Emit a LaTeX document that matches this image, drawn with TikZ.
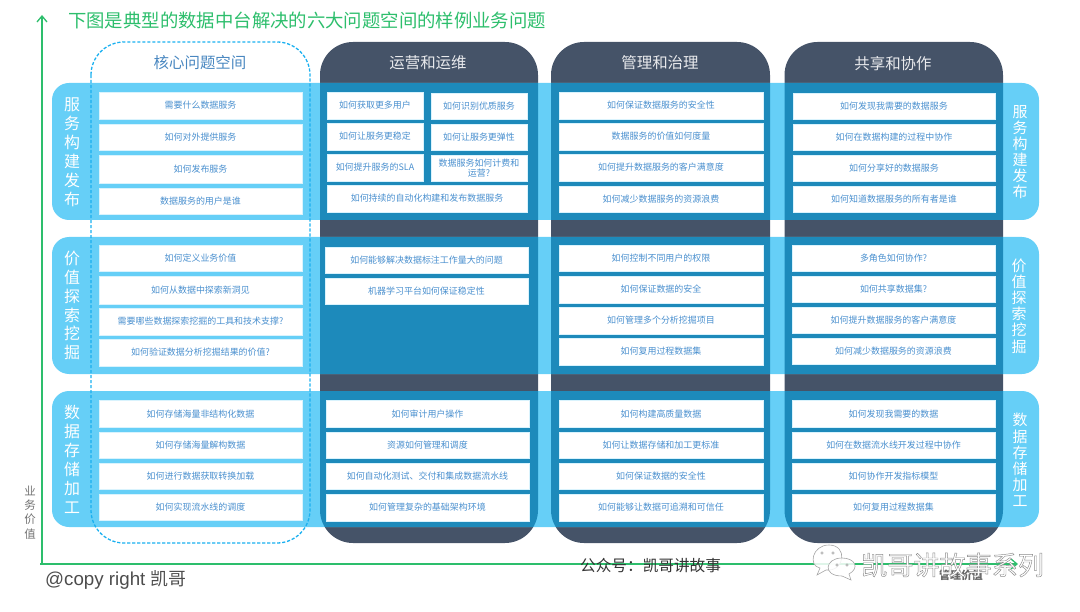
\documentclass[tikz,border=0pt]{standalone}
\usepackage{fontspec}
\setmainfont{Noto Sans CJK SC}
\newfontfamily\latinfam{Liberation Sans}
\usetikzlibrary{arrows.meta}
\definecolor{bandc}{HTML}{66CFF7}
\definecolor{darkc}{HTML}{455368}
\definecolor{overc}{HTML}{1D8ABB}
\definecolor{txtc}{HTML}{4A90CF}
\definecolor{greenc}{HTML}{2DBE6C}
\definecolor{dashc}{HTML}{1AB0F0}
\tikzset{
  colbox/.style={fill=darkc,rounded corners=33bp},
  bandbox/.style={fill=bandc,rounded corners=17bp},
  cell/.style={draw=white!75!bandc,line width=.7bp,fill=white},
  celltxt/.style={text=txtc,font=\fontsize{9}{10.5}\selectfont,align=center,inner sep=0pt},
  coltitle/.style={font=\fontsize{15.5}{18}\selectfont,inner sep=0pt},
  leftlab/.style={text=white,align=center,inner sep=0pt,font=\fontsize{16}{19}\selectfont},
  rightlab/.style={text=white,align=center,inner sep=0pt,font=\fontsize{15}{16.2}\selectfont},
  axisline/.style={draw=greenc,line width=1.3bp},
}
\newcommand{\bx}[6]{\draw[cell] (#2,#3) rectangle node[celltxt,name=#1]{#6} (#4,#5);}
\newcommand{\fourrows}[7]{%
  \bx{#1a}{#2}{\ya}{#3}{\yb}{#4}
  \bx{#1b}{#2}{\yc}{#3}{\yd}{#5}
  \bx{#1c}{#2}{\ye}{#3}{\yf}{#6}
  \bx{#1d}{#2}{\yg}{#3}{\yh}{#7}}
\newcommand{\setrows}[8]{\def\ya{#1}\def\yb{#2}\def\yc{#3}\def\yd{#4}\def\ye{#5}\def\yf{#6}\def\yg{#7}\def\yh{#8}}
\begin{document}
\begin{tikzpicture}[x=1bp,y=-1bp]
\useasboundingbox (0,0) rectangle (1080,612);
% dark columns
\fill[colbox] (320,42) rectangle (538,543);
\fill[colbox] (551,42) rectangle (770,543);
\fill[colbox] (784.5,42) rectangle (1003,543);
% bands
\fill[bandbox] (52,83) rectangle (1039,220);
\fill[bandbox] (52,237) rectangle (1039,374);
\fill[bandbox] (52,391) rectangle (1039,527);
% overlap
\begin{scope}
\clip[rounded corners=33bp] (320,42) rectangle (538,543);
\fill[overc] (300,83) rectangle (560,220);
\fill[overc] (300,237) rectangle (560,374);
\fill[overc] (300,391) rectangle (560,527);
\end{scope}
\begin{scope}
\clip[rounded corners=33bp] (551,42) rectangle (770,543);
\fill[overc] (540,83) rectangle (790,220);
\fill[overc] (540,237) rectangle (790,374);
\fill[overc] (540,391) rectangle (790,527);
\end{scope}
\begin{scope}
\clip[rounded corners=33bp] (784.5,42) rectangle (1003,543);
\fill[overc] (770,83) rectangle (1020,220);
\fill[overc] (770,237) rectangle (1020,374);
\fill[overc] (770,391) rectangle (1020,527);
\end{scope}
% dashed core column
\draw[dashc,line width=1.3bp,dash pattern=on 3.2bp off 1.8bp,rounded corners=33bp] (91,42) rectangle (310,543);
% column titles
\node[coltitle,text=txtc!85!darkc] (t1) at (200,63) {核心问题空间};
\node[coltitle,text=white!88!darkc] (t2) at (428,63) {运营和运维};
\node[coltitle,text=white!88!darkc] (t3) at (660,63) {管理和治理};
\node[coltitle,text=white!88!darkc] (t4) at (893,64) {共享和协作};
% side labels
\node[leftlab] (l1) at (72,152.5) {服\\务\\构\\建\\发\\布};
\node[leftlab] (l2) at (72,305.5) {价\\值\\探\\索\\挖\\掘};
\node[leftlab] (l3) at (72,459.5) {数\\据\\存\\储\\加\\工};
\node[rightlab] (r1) at (1020,152) {服\\务\\构\\建\\发\\布};
\node[rightlab] (r2) at (1019,306) {价\\值\\探\\索\\挖\\掘};
\node[rightlab] (r3) at (1020,460) {数\\据\\存\\储\\加\\工};
% core column cells
\setrows{92}{119}{124}{150}{155}{183}{188}{214}
\fourrows{a}{99}{302}{需要什么数据服务}{如何对外提供服务}{如何发布服务}{数据服务的用户是谁}
\setrows{245}{271.5}{276}{304}{308}{335}{339}{366}
\fourrows{b}{99}{302}{如何定义业务价值}{如何从数据中探索新洞见}{需要哪些数据探索挖掘的工具和技术支撑?}{如何验证数据分析挖掘结果的价值?}
\setrows{400.5}{427}{432}{458}{463}{489}{494}{520}
\fourrows{c}{99}{302}{如何存储海量非结构化数据}{如何存储海量解构数据}{如何进行数据获取转换加载}{如何实现流水线的调度}
% operations column
\bx{d1}{327}{92}{423}{119}{如何获取更多用户}
\bx{d2}{431}{93}{527}{119}{如何识别优质服务}
\bx{d3}{327}{123}{423}{150}{如何让服务更稳定}
\bx{d4}{431}{124}{527}{150}{如何让服务更弹性}
\bx{d5}{327}{154}{423}{181}{如何提升服务的SLA}
\bx{d6}{431}{155}{527}{181}{数据服务如何计费和\\运营?}
\bx{d7}{327}{185}{527}{212}{如何持续的自动化构建和发布数据服务}
\bx{e1}{325}{247}{528}{273}{如何能够解决数据标注工作量大的问题}
\bx{e2}{325}{278}{528}{304}{机器学习平台如何保证稳定性}
\setrows{400.5}{427}{432}{458}{463}{489}{494}{521}
\fourrows{f}{326}{529}{如何审计用户操作}{资源如何管理和调度}{如何自动化测试、交付和集成数据流水线}{如何管理复杂的基础架构环境}
% governance column
\setrows{92}{119}{123}{150}{154}{181}{186}{212}
\fourrows{g}{559}{763}{如何保证数据服务的安全性}{数据服务的价值如何度量}{如何提升数据服务的客户满意度}{如何减少数据服务的资源浪费}
\setrows{245}{271.5}{276}{303}{307}{334}{338}{365}
\fourrows{h}{559}{763}{如何控制不同用户的权限}{如何保证数据的安全}{如何管理多个分析挖掘项目}{如何复用过程数据集}
\setrows{400.5}{427}{432}{458}{463}{489}{494}{521}
\fourrows{i}{559}{763}{如何构建高质量数据}{如何让数据存储和加工更标准}{如何保证数据的安全性}{如何能够让数据可追溯和可信任}
% sharing column
\setrows{93}{119}{124}{150}{155}{181}{186}{212}
\fourrows{j}{793}{995}{如何发现我需要的数据服务}{如何在数据构建的过程中协作}{如何分享好的数据服务}{如何知道数据服务的所有者是谁}
\setrows{245}{271.5}{276}{302}{307}{333}{338}{364}
\fourrows{k}{792}{995}{多角色如何协作?}{如何共享数据集?}{如何提升数据服务的客户满意度}{如何减少数据服务的资源浪费}
\setrows{400.5}{427}{432}{458}{463}{489}{494}{521}
\fourrows{m}{792}{995}{如何发现我需要的数据}{如何在数据流水线开发过程中协作}{如何协作开发指标模型}{如何复用过程数据集}
% axes
\coordinate (origin) at (40,564);
\coordinate (ytip) at (42,15);
\coordinate (xtip) at (1018,564);
\draw[axisline,-{Straight Barb[length=6bp,width=10bp]}] (42,564) -- (ytip);
\draw[axisline,-{Straight Barb[length=6bp,width=10bp]}] (origin) -- (xtip);
% texts
\node[text=greenc,anchor=west,inner sep=0pt,font=\fontsize{18.45}{20}\selectfont] (title) at (68,20) {下图是典型的数据中台解决的六大问题空间的样例业务问题};
\node[text=black!55,align=center,inner sep=0pt,font=\fontsize{11.5}{14.3}\selectfont] (ylab) at (30,512.5) {业\\务\\价\\值};
\node[text=black!70,anchor=west,inner sep=0pt,font=\fontsize{18}{20}\selectfont] (copy) at (45,580) {{\latinfam\fontsize{18.8}{20}\selectfont @copy right }凯哥};
\node[text=black!80,anchor=west,inner sep=0pt,font=\fontsize{15.7}{18}\selectfont] (pub) at (580,566) {公众号：凯哥讲故事};
\node[text=black!60,inner sep=0pt,font=\fontsize{11}{12}\bfseries\selectfont] (xlab) at (961,575) {管理价值};
% watermark
\begin{scope}[draw=black!35,fill=white,line width=.6bp]
\filldraw[fill opacity=.85] (829,545) .. controls (812,545) and (808,566) .. (820,568) -- (817,575) -- (826,570) .. controls (845,572) and (848,545) .. (829,545) -- cycle;
\filldraw[fill opacity=.85] (842,558) .. controls (825,558) and (822,576) .. (842,576) -- (851,580) -- (849,574) .. controls (860,568) and (855,558) .. (842,558) -- cycle;
\draw (822,553) circle (1.2bp) (833,553) circle (1.2bp) (837,565) circle (1.2bp) (847,565) circle (1.2bp);
\end{scope}
\node[anchor=west,inner sep=0pt,font=\fontsize{26.2}{28}\selectfont] (wm) at (861,565) {\special{pdf:code q 2 Tr 0.45 w 0.55 G 1 1 1 rg}凯哥讲故事系列\special{pdf:code 0 Tr Q}};
\end{tikzpicture}
\end{document}
